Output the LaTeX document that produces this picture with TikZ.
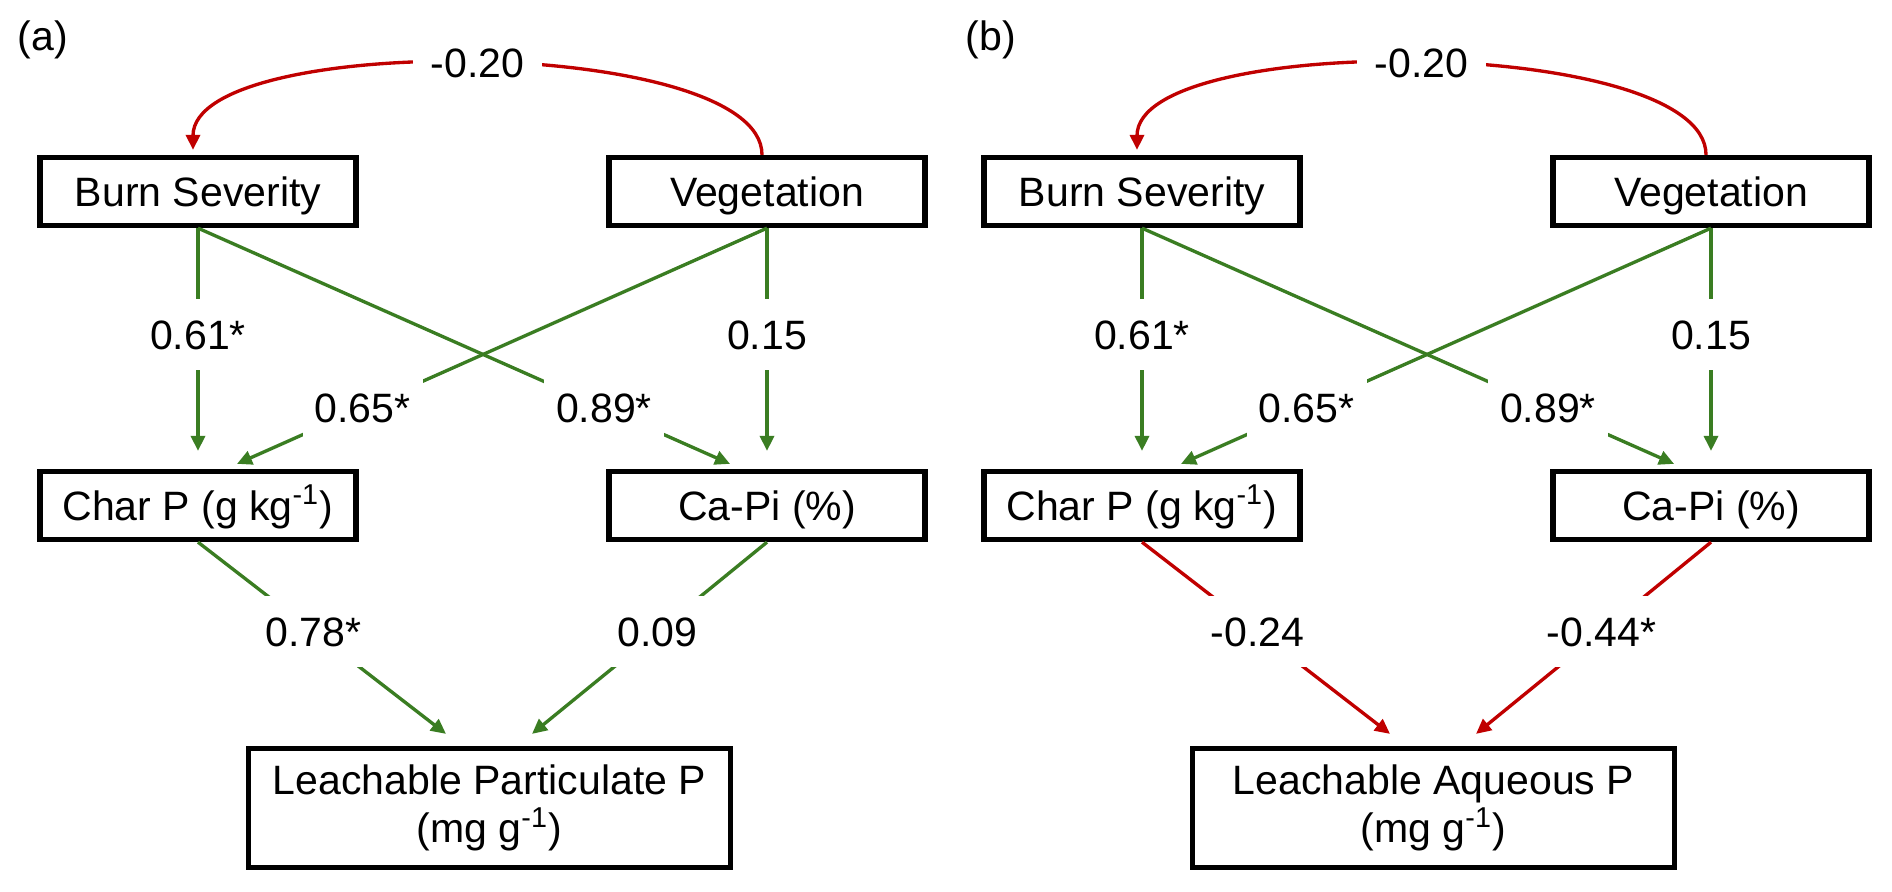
\documentclass[tikz,border=0pt]{standalone}
\usepackage{fontspec}
\setmainfont{Liberation Sans}
\usetikzlibrary{positioning, arrows.meta}

\definecolor{pathgreen}{HTML}{3A7D22}
\definecolor{pathred}{HTML}{C00000}

\begin{document}
\begin{tikzpicture}[on grid, >={Triangle[length=0.15cm, width=0.14cm]},
	font=\fontsize{11.67}{13.66}\selectfont,
	box/.style={draw, rectangle, line width=1.5pt},
	var/.style={box, minimum width=3.16cm, minimum height=0.68cm, text height=0.29cm, text depth=0cm},
	resp/.style={box, align=center, minimum width=4.82cm, minimum height=1.19cm},
	coef/.style={fill=white, inner xsep=0.12cm, inner ysep=0.21cm, text height=0.29cm, text depth=0cm},
	pos link/.style={draw=pathgreen, line width=0.95pt},
	neg link/.style={draw=pathred, line width=0.95pt}]

\useasboundingbox (-1.98,1.915) rectangle (16.94,-6.995);

% Panel labels
	\node (pa)		at (-1.55,1.515)		{(a)};
	\node (pb)		[right=9.48cm of pa]	{(b)};

% Panel (a) nodes
	\node (bsa)		[var]								{Burn Severity};
	\node (vega)	[var, right=5.69cm of bsa]			{Vegetation};
	\node (chpa)	[var, below=3.14cm of bsa]			{Char P (g kg\textsuperscript{-1})};
	\node (capa)	[var, below=3.14cm of vega]			{Ca-Pi (\%)};
	\node (leaa)	[resp, below right=3.025cm and 2.915cm of chpa]	{Leachable Particulate P \\ (mg g\textsuperscript{-1})};

% Panel (b) nodes
	\node (bsb)		[var, right=9.44cm of bsa]			{Burn Severity};
	\node (vegb)	[var, right=5.69cm of bsb]			{Vegetation};
	\node (chpb)	[var, below=3.14cm of bsb]			{Char P (g kg\textsuperscript{-1})};
	\node (capb)	[var, below=3.14cm of vegb]			{Ca-Pi (\%)};
	\node (leab)	[resp, below right=3.025cm and 2.915cm of chpb]	{Leachable Aqueous P \\ (mg g\textsuperscript{-1})};

% Paths (a)
	\path[->]
		([xshift=-0.05cm]vega.north)	edge[neg link, out=90, in=90, looseness=0.534] node[coef, inner xsep=0.18cm, inner ysep=0.05cm] (ra) {-0.20} ([xshift=-0.05cm, yshift=0.05cm]bsa.north)

		(bsa.south)		edge[pos link] node[coef, pos=0.478] (a61) {0.61*} ([yshift=0.18cm]chpa.north)
		(vega.south)	edge[pos link] node[coef, pos=0.763] (a65) {0.65*} ([xshift=0.39cm, yshift=0.05cm]chpa.north)
		(bsa.south)		edge[pos link] node[coef, pos=0.763] (a89) {0.89*} ([xshift=-0.37cm, yshift=0.05cm]capa.north)
		(vega.south)	edge[pos link] node[coef, pos=0.478] (a15) {0.15} ([yshift=0.18cm]capa.north)

		(chpa.south)	edge[pos link] node[coef, pos=0.466] (a78) {0.78*} ([xshift=-0.435cm, yshift=0.12cm]leaa.north)
		(capa.south)	edge[pos link] node[coef, pos=0.466] (a09) {0.09} ([xshift=0.425cm, yshift=0.12cm]leaa.north)
	;

% Paths (b)
	\path[->]
		([xshift=-0.05cm]vegb.north)	edge[neg link, out=90, in=90, looseness=0.534] node[coef, inner xsep=0.18cm, inner ysep=0.05cm] (rb) {-0.20} ([xshift=-0.05cm, yshift=0.05cm]bsb.north)

		(bsb.south)		edge[pos link] node[coef, pos=0.478] (b61) {0.61*} ([yshift=0.18cm]chpb.north)
		(vegb.south)	edge[pos link] node[coef, pos=0.763] (b65) {0.65*} ([xshift=0.39cm, yshift=0.05cm]chpb.north)
		(bsb.south)		edge[pos link] node[coef, pos=0.763] (b89) {0.89*} ([xshift=-0.37cm, yshift=0.05cm]capb.north)
		(vegb.south)	edge[pos link] node[coef, pos=0.478] (b15) {0.15} ([yshift=0.18cm]capb.north)

		(chpb.south)	edge[neg link] node[coef, pos=0.466] (b24) {-0.24} ([xshift=-0.435cm, yshift=0.12cm]leab.north)
		(capb.south)	edge[neg link] node[coef, pos=0.466] (b44) {-0.44*} ([xshift=0.425cm, yshift=0.12cm]leab.north)
	;

\end{tikzpicture}
\end{document}
